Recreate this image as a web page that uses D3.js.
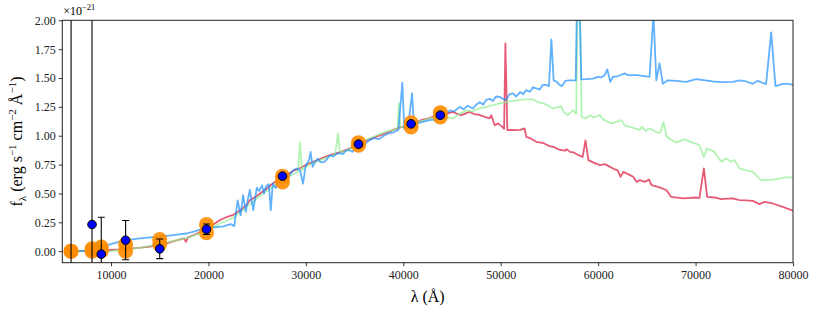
<!DOCTYPE html>
<html>
<head>
<meta charset="utf-8">
<script src="https://cdn.jsdelivr.net/npm/d3@7"></script>
<style>
  body { margin: 0; background: #fff; }
  text { font-family: "Liberation Serif", "DejaVu Serif", serif; }
</style>
</head>
<body>
<div id="chart"></div>
<script>
// axis ticks
var xTicks = [10000, 20000, 30000, 40000, 50000, 60000, 70000, 80000];
var yTicks = [0, 0.25, 0.5, 0.75, 1.0, 1.25, 1.5, 1.75, 2.0];

// photometry: band wavelength, observed flux + error, model flux range (units of 1e-21)
var bands    = [5900, 8050, 9000, 11500, 15000, 19800, 27600, 35400, 40800, 43800];
var obsFlux  = [-0.6, 0.231, -0.026, 0.095, 0.02, 0.19, 0.65, 0.927, 1.103, 1.178];
var obsErr   = [3.0, 3.0, 0.32, 0.17, 0.085, 0.045, 0.015, 0.015, 0.015, 0.015];
var modelLo  = [0.0, 0.0, 0.002, 0.0, 0.06, 0.16, 0.60, 0.917, 1.076, 1.163];
var modelHi  = [0.0, 0.02, 0.036, 0.06, 0.10, 0.232, 0.65, 0.94, 1.113, 1.2];

// model spectra [wavelength, flux]
var specBlue = [[5500,0.0],[7000,0.0],[8000,0.015],[9000,0.04],[10000,0.06],[11000,0.085],[12000,0.10],[13000,0.11],[14000,0.12],[15000,0.125],[16000,0.135],[17000,0.145],[17750,0.153],[18500,0.17],[19460,0.195],[20500,0.205],[21500,0.215],[22300,0.235],[22650,0.217],[23000,0.44],[23300,0.31],[23560,0.485],[23840,0.34],[24050,0.45],[24250,0.53],[24600,0.355],[24970,0.55],[25200,0.52],[25500,0.57],[25700,0.50],[25900,0.56],[26200,0.58],[26400,0.355],[26600,0.586],[26900,0.546],[27200,0.62],[27600,0.64],[28000,0.655],[28350,0.66],[28700,0.70],[29070,0.716],[29400,0.70],[29700,0.586],[30000,0.745],[30330,0.79],[30480,0.86],[30700,0.73],[31000,0.78],[31230,0.80],[31500,0.77],[31900,0.774],[32200,0.80],[32450,0.83],[32800,0.82],[33100,0.84],[33480,0.85],[33800,0.84],[34100,0.87],[34500,0.875],[34800,0.86],[35000,0.89],[35400,0.925],[35700,0.91],[36050,0.93],[36500,0.96],[37000,0.98],[37500,0.97],[38000,1.0],[38500,1.02],[39000,1.03],[39500,1.05],[39900,1.46],[40100,1.06],[40500,1.08],[40900,1.367],[41100,1.08],[41500,1.11],[42000,1.12],[42500,1.13],[43000,1.14],[43400,1.13],[43800,1.17],[44400,1.19],[44800,1.22],[45200,1.21],[45800,1.25],[46200,1.23],[46600,1.26],[47150,1.236],[47500,1.27],[47850,1.29],[48200,1.27],[48500,1.31],[48860,1.32],[49200,1.30],[49500,1.34],[49890,1.337],[50200,1.32],[50580,1.31],[50900,1.36],[51250,1.367],[51600,1.34],[52000,1.38],[52300,1.36],[52620,1.395],[53000,1.38],[53300,1.42],[53650,1.41],[54000,1.40],[54300,1.44],[54680,1.44],[54950,1.43],[55200,1.835],[55430,1.48],[55700,1.47],[56040,1.44],[56300,1.43],[56650,1.476],[57000,1.48],[57500,1.48],[57700,1.48],[57850,2.3],[58050,2.3],[58270,1.488],[58800,1.49],[59460,1.494],[59970,1.51],[60300,1.505],[60660,1.525],[60940,1.575],[61240,1.467],[61510,1.51],[62000,1.515],[62710,1.54],[63050,1.525],[64000,1.525],[65270,1.51],[65680,2.05],[65970,1.48],[66300,1.626],[66640,1.45],[67150,1.48],[68000,1.475],[69040,1.467],[70060,1.49],[71000,1.48],[71770,1.47],[72800,1.465],[73820,1.467],[74500,1.48],[75200,1.47],[75870,1.45],[76380,1.476],[76800,1.46],[77240,1.447],[77760,1.895],[78200,1.43],[78950,1.45],[79500,1.45],[80000,1.44]];

var specRed = [[5500,0.0],[8000,0.003],[10000,0.01],[11000,0.015],[12000,0.022],[13000,0.03],[14000,0.04],[15000,0.055],[16000,0.075],[17000,0.10],[17500,0.11],[17690,0.08],[17900,0.12],[18500,0.14],[19000,0.16],[19800,0.195],[20500,0.23],[21200,0.27],[22000,0.30],[22550,0.315],[23000,0.34],[23500,0.37],[24000,0.41],[24250,0.44],[24800,0.47],[25300,0.50],[25960,0.54],[26500,0.58],[27000,0.61],[27600,0.64],[28200,0.67],[28800,0.70],[29400,0.72],[30000,0.745],[30600,0.77],[31200,0.79],[31800,0.81],[32400,0.83],[33000,0.845],[33600,0.86],[34200,0.88],[34800,0.90],[35400,0.92],[36000,0.95],[36600,0.97],[37200,0.99],[37800,1.01],[38400,1.03],[39000,1.05],[39600,1.07],[40200,1.08],[40800,1.10],[41400,1.12],[42000,1.14],[42600,1.15],[43200,1.17],[43800,1.18],[44400,1.19],[45100,1.207],[45500,1.19],[45960,1.178],[46300,1.19],[46800,1.207],[47200,1.19],[47800,1.18],[48300,1.165],[48860,1.15],[49040,1.178],[49380,1.09],[49720,1.107],[50170,1.077],[50350,1.06],[50480,1.80],[50680,1.048],[51000,1.05],[51600,1.048],[52000,1.05],[52450,1.063],[52630,0.99],[53000,0.98],[53650,0.947],[54400,0.935],[55000,0.91],[55400,0.904],[56000,0.88],[56600,0.87],[56770,0.884],[57110,0.86],[57500,0.855],[57800,0.84],[58410,0.817],[58700,0.96],[59000,0.789],[59700,0.76],[60200,0.745],[60700,0.754],[61220,0.73],[61730,0.708],[62000,0.70],[62300,0.644],[62580,0.687],[63070,0.667],[63600,0.644],[63940,0.60],[64280,0.615],[64790,0.60],[65230,0.62],[65470,0.572],[66150,0.557],[67000,0.53],[67500,0.47],[68700,0.457],[69500,0.462],[69900,0.465],[70400,0.462],[70850,0.717],[71190,0.47],[71940,0.465],[72630,0.45],[73200,0.455],[73820,0.457],[74500,0.442],[75200,0.44],[75870,0.436],[76550,0.407],[77060,0.427],[77920,0.413],[78950,0.384],[80000,0.35]];

var specGreen = [[5500,0.0],[8000,0.0],[9000,-0.005],[10000,0.0],[11000,0.01],[12000,0.02],[13000,0.03],[14000,0.045],[15000,0.06],[16000,0.08],[17000,0.10],[18000,0.12],[19000,0.15],[19800,0.18],[20500,0.21],[21200,0.24],[22000,0.27],[22550,0.29],[23000,0.32],[23500,0.35],[24000,0.39],[24500,0.42],[25000,0.46],[25500,0.49],[25960,0.52],[26500,0.55],[27000,0.58],[27600,0.61],[28200,0.64],[28800,0.67],[29200,0.69],[29400,0.94],[29600,0.70],[30000,0.73],[30600,0.76],[31200,0.78],[31800,0.80],[32400,0.82],[33000,0.84],[33300,1.02],[33500,0.855],[34000,0.87],[34600,0.89],[35400,0.93],[36000,0.96],[36600,0.98],[37200,1.0],[37800,1.02],[38400,1.04],[39000,1.05],[39400,1.06],[39550,1.28],[39700,1.07],[40200,1.08],[40800,1.10],[41400,1.12],[42000,1.13],[42600,1.15],[43200,1.16],[43800,1.17],[44400,1.16],[45100,1.15],[45800,1.19],[46470,1.22],[47000,1.21],[47840,1.237],[48500,1.25],[49200,1.265],[49900,1.28],[50580,1.294],[51200,1.30],[51940,1.31],[52600,1.315],[53300,1.315],[53900,1.29],[54380,1.28],[55000,1.256],[55370,1.236],[55800,1.245],[56220,1.256],[56460,1.207],[56900,1.178],[57400,1.22],[57750,1.19],[57900,2.3],[58100,2.3],[58300,1.164],[58700,1.15],[59200,1.178],[59500,1.158],[60200,1.178],[60530,1.14],[61000,1.12],[61380,1.107],[62400,1.135],[62720,1.09],[63500,1.07],[64250,1.05],[64490,1.077],[64870,1.042],[65270,1.063],[65700,1.045],[66130,1.025],[66400,1.03],[66700,1.12],[67050,0.99],[68000,0.94],[68860,0.968],[69700,0.94],[70400,0.918],[70840,0.817],[71190,0.89],[71940,0.86],[72630,0.774],[73140,0.803],[73650,0.774],[74000,0.789],[74500,0.717],[75190,0.70],[75870,0.687],[76730,0.615],[77920,0.62],[79290,0.64],[80000,0.64]];

// size and margins
var width = 817, height = 315;
var margin = {left: 62.3, right: 24, top: 20.3, bottom: 52.3};
var pw = width - margin.left - margin.right;
var ph = height - margin.top - margin.bottom;

var svg = d3.select("#chart").append("svg")
            .attr("width", width)
            .attr("height", height);

var x = d3.scaleLinear().domain([5000, 80000]).range([0, pw]);
var y = d3.scaleLinear().domain([-0.1, 2.0]).range([ph, 0]);

svg.append("defs").append("clipPath").attr("id", "clip")
   .append("rect").attr("width", pw).attr("height", ph);

var g = svg.append("g").attr("transform", "translate(" + margin.left + "," + margin.top + ")");
var plot = g.append("g").attr("clip-path", "url(#clip)");

var line = d3.line().x(function(d){ return x(d[0]); }).y(function(d){ return y(d[1]); });

// spectra (red first, then green, then blue on top)
var spectra = [
  {data: specRed, color: "#dc143c"},
  {data: specGreen, color: "#90ee90"},
  {data: specBlue, color: "#1e90ff"}
];
spectra.forEach(function(s){
  plot.append("path")
      .datum(s.data)
      .attr("d", line)
      .attr("fill", "none")
      .attr("stroke", s.color)
      .attr("stroke-opacity", 0.7)
      .attr("stroke-width", 1.8)
      .attr("stroke-linejoin", "round");
});

// model photometry (orange blobs)
bands.forEach(function(b, i){
  [modelLo[i], modelHi[i]].forEach(function(v){
    plot.append("circle")
        .attr("cx", x(b))
        .attr("cy", y(v))
        .attr("r", 7.5)
        .attr("fill", "#ff8c00")
        .attr("fill-opacity", 0.9);
  });
});

// error bars
bands.forEach(function(b, i){
  var lo = y(obsFlux[i] - obsErr[i]), hi = y(obsFlux[i] + obsErr[i]);
  var eb = plot.append("g").attr("stroke", "black").attr("stroke-width", 1.1);
  eb.append("line").attr("x1", x(b)).attr("x2", x(b)).attr("y1", lo).attr("y2", hi);
  eb.append("line").attr("x1", x(b) - 3.5).attr("x2", x(b) + 3.5).attr("y1", lo).attr("y2", lo);
  eb.append("line").attr("x1", x(b) - 3.5).attr("x2", x(b) + 3.5).attr("y1", hi).attr("y2", hi);
});

// observed points
plot.selectAll("circle.obs")
    .data(bands)
    .enter()
    .append("circle")
    .attr("class", "obs")
    .attr("cx", function(d){ return x(d); })
    .attr("cy", function(d, i){ return y(obsFlux[i]); })
    .attr("r", 4.3)
    .attr("fill", "blue")
    .attr("stroke", "black")
    .attr("stroke-width", 1);

// axes
var xAxis = g.append("g").attr("transform", "translate(0," + ph + ")")
             .call(d3.axisBottom(x).tickValues(xTicks).tickSize(3.5).tickPadding(4).tickFormat(d3.format("d")));
var yAxis = g.append("g")
             .call(d3.axisLeft(y).tickValues(yTicks).tickSize(3.5).tickPadding(3).tickFormat(d3.format(".2f")));
[xAxis, yAxis].forEach(function(a){
  a.select(".domain").remove();
  a.selectAll("line").attr("stroke", "black").attr("stroke-width", 0.8);
  a.selectAll("text").attr("font-size", 12).attr("fill", "#222")
   .style("font-family", "'Liberation Serif', serif");
});

// frame
g.append("rect").attr("width", pw).attr("height", ph)
 .attr("fill", "none").attr("stroke", "#222").attr("stroke-width", 1);

// labels
svg.append("text")
   .attr("x", margin.left + pw / 2).attr("y", 302)
   .attr("text-anchor", "middle").attr("font-size", 16)
   .text("λ (Å)");

var yl = svg.append("text")
   .attr("transform", "translate(22," + (margin.top + ph / 2) + ") rotate(-90)")
   .attr("text-anchor", "middle").attr("font-size", 16);
yl.append("tspan").text("f");
yl.append("tspan").attr("font-size", 11).attr("dy", 4).text("λ");
yl.append("tspan").attr("dy", -4).text(" (erg s");
yl.append("tspan").attr("font-size", 11).attr("dy", -6).text("−1");
yl.append("tspan").attr("dy", 6).text(" cm");
yl.append("tspan").attr("font-size", 11).attr("dy", -6).text("−2");
yl.append("tspan").attr("dy", 6).text(" Å");
yl.append("tspan").attr("font-size", 11).attr("dy", -6).text("−1");
yl.append("tspan").attr("dy", 6).text(")");

var off = svg.append("text").attr("x", margin.left + 1).attr("y", 15).attr("font-size", 12);
off.append("tspan").text("×10");
off.append("tspan").attr("font-size", 8.5).attr("dy", -5).text("−21");
</script>
</body>
</html>
